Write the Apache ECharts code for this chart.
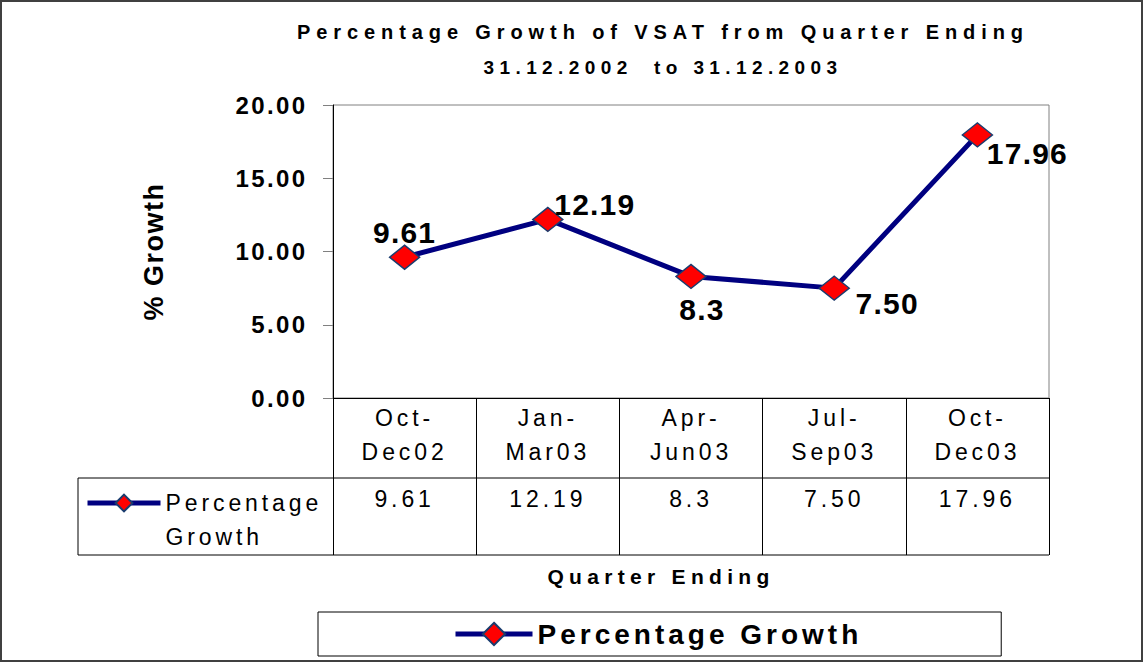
<!DOCTYPE html>
<html>
<head>
<meta charset="utf-8">
<title>Percentage Growth of VSAT</title>
<script src="https://cdn.jsdelivr.net/npm/echarts@6/dist/echarts.min.js"></script>
<style>
    html, body { margin: 0; padding: 0; background: #fff; }
    #chart { width: 1147px; height: 664px; }
    #chart text { white-space: pre; }
    /* the old Excel export has widely spaced letters, matched per font size */
    #chart text[style*="19px"] { letter-spacing: 5.4px; }
    #chart text[style*="20px"] { letter-spacing: 5.9px; }
    #chart text[style*="21px"] { letter-spacing: 5.3px; }
    #chart text[style*="23px"] { letter-spacing: 3.9px; }
    #chart text[style*="24px"] { letter-spacing: 2.4px; }
    #chart text[style*="27px"] { letter-spacing: 1.5px; }
    #chart text[style*="28px"] { letter-spacing: 4px; }
    #chart text[style*="30px"] { letter-spacing: 1.2px; }
</style>
</head>
<body>
<div id="chart"></div>
<script>
let categories = ['Oct-Dec02', 'Jan-Mar03', 'Apr-Jun03', 'Jul-Sep03', 'Oct-Dec03'];
let growth = [9.61, 12.19, 8.3, 7.50, 17.96];
let growthText = ['9.61', '12.19', '8.3', '7.50', '17.96'];
let seriesName = 'Percentage Growth';
let yMin = 0, yMax = 20, yStep = 5;

// where each value label sits relative to its marker
let labelOffsets = [[0, -25], [47, -15], [11, 33], [53, 15], [50, 19]];

let font = 'Liberation Sans, Arial, sans-serif';
let plotLeft = 333, plotRight = 1049, plotTop = 105, plotBottom = 398;
let rowSplit = 478, tableBottom = 555, tableLeft = 78;

let chart = echarts.init(document.getElementById('chart'), null, {renderer: 'svg'});

let option = {
    animation: false,
    textStyle: {fontFamily: font},
    title: [
        {
            text: 'Percentage Growth of VSAT from Quarter Ending',
            subtext: '31.12.2002  to 31.12.2003',
            left: 663,
            top: 14,
            textAlign: 'center',
            padding: 0,
            itemGap: 0,
            textStyle: {fontSize: 20, fontWeight: 'bold', color: '#000', lineHeight: 36, fontFamily: font},
            subtextStyle: {fontSize: 19, fontWeight: 'bold', color: '#000', lineHeight: 34, fontFamily: font}
        },
        {
            text: 'Quarter Ending',
            left: 661,
            top: 563,
            textAlign: 'center',
            padding: 0,
            textStyle: {fontSize: 21, fontWeight: 'bold', color: '#000', lineHeight: 26, fontFamily: font}
        }
    ],
    legend: [
        {
            data: [seriesName],
            left: 318,
            top: 612,
            padding: [8, 207, 8, 135],
            borderColor: '#000',
            borderWidth: 1,
            itemWidth: 77,
            itemHeight: 28,
            selectedMode: false,
            lineStyle: {width: 5},
            textStyle: {fontSize: 28, fontWeight: 'bold', color: '#000', fontFamily: font}
        },
        {
            // legend key inside the data table, text wraps below the key line
            data: [seriesName],
            left: 85,
            top: 452,
            padding: 0,
            itemWidth: 73,
            itemHeight: 21,
            selectedMode: false,
            lineStyle: {width: 5},
            formatter: function (name) {
                return '\n' + name.replace(' ', '\n');
            },
            textStyle: {fontSize: 23, color: '#000', lineHeight: 34, fontFamily: font}
        }
    ],
    grid: {
        left: plotLeft,
        top: plotTop,
        width: plotRight - plotLeft,
        height: plotBottom - plotTop,
        show: true,
        borderColor: '#808080',
        borderWidth: 1,
        containLabel: false
    },
    xAxis: [
        {
            type: 'category',
            data: categories,
            position: 'bottom',
            boundaryGap: true,
            axisLine: {lineStyle: {color: '#000', width: 1}},
            axisTick: {show: true, interval: 0, length: tableBottom - plotBottom, lineStyle: {color: '#000'}},
            axisLabel: {
                interval: 0,
                margin: 3,
                fontSize: 23,
                lineHeight: 34,
                color: '#000',
                fontFamily: font,
                formatter: function (v) {
                    return v.replace('-', '-\n');
                }
            }
        },
        {
            type: 'category',
            data: growthText,
            position: 'bottom',
            offset: rowSplit - plotBottom,
            axisLine: {show: false},
            axisTick: {show: false},
            axisLabel: {interval: 0, margin: 9, fontSize: 23, lineHeight: 24, color: '#000', fontFamily: font}
        }
    ],
    yAxis: {
        type: 'value',
        min: yMin,
        max: yMax,
        interval: yStep,
        name: '% Growth',
        nameLocation: 'middle',
        nameRotate: 90,
        nameGap: 166,
        nameTextStyle: {fontSize: 27, fontWeight: 'bold', color: '#000', fontFamily: font},
        axisLine: {show: true, lineStyle: {color: '#000', width: 1}},
        axisTick: {show: true, length: 10, lineStyle: {color: '#808080'}},
        splitLine: {show: false},
        axisLabel: {
            margin: 25.5,
            fontSize: 24,
            fontWeight: 'bold',
            color: '#000',
            fontFamily: font,
            formatter: function (v) {
                return v.toFixed(2);
            }
        }
    },
    series: [
        {
            name: seriesName,
            type: 'line',
            xAxisIndex: 0,
            data: growth.map(function (v, i) {
                return {value: v, label: {offset: labelOffsets[i]}};
            }),
            symbol: 'diamond',
            symbolSize: [30, 24],
            lineStyle: {color: '#000080', width: 5},
            itemStyle: {color: '#ff0000', borderColor: '#1a3c6e', borderWidth: 1.5},
            label: {
                show: true,
                position: 'inside',
                fontSize: 30,
                fontWeight: 'bold',
                color: '#000',
                fontFamily: font,
                formatter: function (p) {
                    return growthText[p.dataIndex];
                }
            },
            emphasis: {disabled: true}
        }
    ],
    graphic: [
        {
            type: 'rect',
            shape: {x: 1, y: 1, width: 1141, height: 660},
            style: {fill: null, stroke: '#404040', lineWidth: 2},
            silent: true
        },
        {
            type: 'polyline',
            shape: {points: [[plotRight, rowSplit], [tableLeft, rowSplit], [tableLeft, tableBottom], [plotRight, tableBottom]]},
            style: {fill: null, stroke: '#000', lineWidth: 1},
            silent: true
        }
    ]
};
chart.setOption(option, true);
</script>
</body>
</html>
